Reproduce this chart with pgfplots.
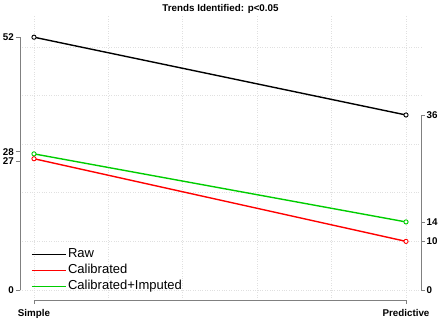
\documentclass[border=0pt]{standalone}
\usepackage{fontspec}
\setmainfont{Liberation Sans}
\usepackage{pgfplots}
\pgfplotsset{compat=1.18}
\definecolor{axgray}{gray}{0.5}
\definecolor{gridgray}{gray}{0.88}
\definecolor{mygreen}{RGB}{0,205,0}
\definecolor{myred}{RGB}{255,0,0}

\pgfplotsset{
  slopebase/.style={
    at={(20pt,20pt)}, anchor=south west, scale only axis,
    width=401pt, height=285pt,
    xmin=-0.0376, xmax=1.0403, ymin=-2.057, ymax=56.57,
    clip=false,
  },
  leg/.style={legend image code/.code={\path (0pt,0pt) -- (34pt,0pt); \draw[#1, line width=1.4pt] (0pt,0pt) -- (24pt,0pt);}},
  slopeline/.style={#1, line width=1.4pt, mark=*, mark size=2.1pt,
    mark options={draw=#1, fill=white, line width=0.9pt}, leg=#1},
}

\begin{document}
\begin{tikzpicture}[x=1pt,y=1pt]
\useasboundingbox (0,0) rectangle (440,320);

% grid
\begin{axis}[slopebase,
  axis line style={draw=none},
  xtick={0,0.2,0.4,0.6,0.8,1}, ytick={0,10,20,30,40,50},
  xticklabels={,,,,,}, yticklabels={,,,,,},
  major tick length=0pt,
  grid=major, grid style={dotted, gridgray, line width=0.6pt},
]
\end{axis}

% main axis: left y and bottom x
\begin{axis}[slopebase,
  axis x line*=bottom, axis y line*=left,
  axis line style={draw=none},
  xtick={0,1}, xticklabels={Simple,Predictive},
  ytick={0,26.48,28.45,52}, yticklabels={0,27,28,52},
  tick align=outside, major tick length=4pt,
  tick style={axgray, line width=0.8pt},
  ticklabel style={font=\fontsize{9.8}{10}\selectfont\bfseries},
  yticklabel style={inner sep=2pt},
  xticklabel style={inner sep=1pt, yshift=-4pt},
  legend style={at={(axis cs:-0.008,8.85)}, anchor=north west, draw=none, fill=none,
    font=\fontsize{13}{13}\selectfont, inner sep=0pt, row sep=1.5pt,
    nodes={inner sep=1.5pt, text height=9pt, text depth=2.5pt}},
  legend cell align=left,
]
\draw[axgray, line width=0.8pt] (axis cs:-0.0376,0) -- (axis cs:-0.0376,52);
\draw[axgray, line width=0.8pt] (axis cs:0,-2.057) -- (axis cs:1,-2.057);

\addplot[slopeline=black] coordinates {(0,52) (1,36)};
\addplot[slopeline=myred] coordinates {(0,27) (1,10)};
\addplot[slopeline=mygreen] coordinates {(0,28) (1,14)};
\legend{Raw, Calibrated, Calibrated+Imputed}
\end{axis}

% right axis
\begin{axis}[slopebase,
  axis x line=none, axis y line*=right,
  axis line style={draw=none},
  ytick={0,10,14,36}, yticklabels={0,10,14,36},
  tick align=outside, major tick length=4pt,
  tick style={axgray, line width=0.8pt},
  ticklabel style={font=\fontsize{9.8}{10}\selectfont\bfseries},
  yticklabel style={inner sep=1.5pt},
]
\draw[axgray, line width=0.8pt] (axis cs:1.0403,0) -- (axis cs:1.0403,36);
\end{axis}

\node[anchor=base, font=\fontsize{9.8}{10}\selectfont\bfseries] at (220.5,308.3) {Trends Identified: p<0.05};
\end{tikzpicture}
\end{document}
